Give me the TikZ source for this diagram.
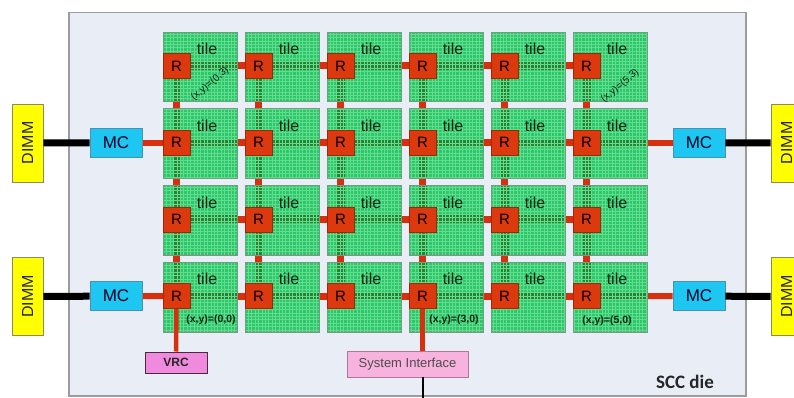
\documentclass[tikz,border=0pt]{standalone}
\usepackage{fontspec}
\setmainfont{Liberation Sans}
\newfontfamily\carlfont{Carlito}
\usetikzlibrary{calc}
\pgfdeclarelayer{dielayer}
\pgfdeclarelayer{linklayer}
\pgfdeclarelayer{tilelayer}
\pgfdeclarelayer{striplayer}
\pgfdeclarelayer{gridlayer}
\pgfsetlayers{dielayer,linklayer,tilelayer,striplayer,gridlayer,main}

\definecolor{dieF}{HTML}{E9EDF6}
\definecolor{dieD}{HTML}{9C9C9C}
\definecolor{tileF}{RGB}{46,198,106}
\definecolor{gridC}{RGB}{96,222,142}
\definecolor{tileD}{HTML}{6F9F80}
\definecolor{stripC}{RGB}{44,128,50}
\definecolor{rF}{HTML}{DC3A0E}
\definecolor{rD}{HTML}{9A2A08}
\definecolor{linkC}{HTML}{D8300F}
\definecolor{mcF}{HTML}{1EC6F2}
\definecolor{mcD}{HTML}{4E8FB0}
\definecolor{dimmF}{HTML}{FFFF00}
\definecolor{dimmD}{HTML}{8A8A60}
\definecolor{vrcF}{HTML}{F08ADC}
\definecolor{vrcD}{HTML}{4A2A40}
\definecolor{siF}{HTML}{F8B2DE}
\definecolor{siD}{HTML}{B07898}
\definecolor{txtG}{HTML}{0C2616}

\begin{document}
\begin{tikzpicture}[x=1pt,y=-1pt,
  diebox/.style={draw=dieD, line width=1.5pt, fill=dieF, anchor=north west,
    minimum width=677pt, minimum height=383pt, inner sep=0pt},
  tilebox/.style={draw=tileD, line width=0.8pt, fill=tileF,
    minimum width=74pt, minimum height=69pt, inner sep=0pt, anchor=north west},
  tiletext/.style={text=txtG, font=\fontsize{16}{16}\selectfont, inner sep=0pt},
  router/.style={draw=rD, line width=0.8pt, fill=rF, minimum width=27pt, minimum height=25pt,
    inner sep=0pt, text=black, font=\fontsize{15}{15}\selectfont},
  link/.style={draw=linkC, line width=7pt},
  strip/.style={draw=stripC, line width=8pt, line cap=butt},
  mclink/.style={draw=linkC, line width=6pt},
  iolink/.style={draw=linkC, line width=4.5pt},
  memlink/.style={draw=black, line width=7pt},
  mcbox/.style={draw=mcD, line width=0.8pt, fill=mcF, minimum width=52pt, minimum height=29pt,
    inner sep=0pt, text=black!85!blue, font=\fontsize{17}{17}\selectfont},
  dimmbox/.style={draw=dimmD, line width=0.8pt, fill=dimmF, minimum width=31pt, minimum height=78pt,
    inner sep=0pt},
  dimmtext/.style={rotate=90, inner sep=0pt, font=\fontsize{16}{16}\selectfont, text=black!85},
  vrcbox/.style={draw=vrcD, line width=1pt, fill=vrcF, minimum width=62pt, minimum height=21pt,
    inner sep=0pt, font=\bfseries\fontsize{12}{12}\selectfont, text=black!85},
  sibox/.style={draw=siD, line width=0.8pt, fill=siF, minimum width=121pt, minimum height=26pt,
    inner sep=0pt, font=\fontsize{13}{13}\selectfont, text=black!70},
  coordlbl/.style={inner sep=0pt, text=txtG, font=\bfseries\fontsize{10.5}{10.5}\selectfont},
  rotlbl/.style={inner sep=0pt, text=txtG, font=\fontsize{10}{10}\selectfont},
  meshgrid/.style={draw=gridC, line width=0.35pt, step=3.4pt}]

\clip (0,0) rectangle (794,398);

\begin{pgfonlayer}{dielayer}
  \node[diebox] (die) at (68,12) {};
\end{pgfonlayer}

% tiles and routers
\foreach \i in {0,...,5}{
  \foreach \j in {0,...,3}{
    \pgfmathsetmacro\L{163+82*\i}
    \pgfmathsetmacro\T{32+76.7*(3-\j)}
    \begin{pgfonlayer}{tilelayer}
      \node[tilebox] (t\i\j) at (\L,\T) {};
    \end{pgfonlayer}
    \begin{pgfonlayer}{gridlayer}
      \begin{scope}
        \clip (t\i\j.north west) rectangle (t\i\j.south east);
        \draw[meshgrid] (t\i\j.north west) grid (t\i\j.south east);
      \end{scope}
      \draw[tileD, line width=0.8pt] (t\i\j.north west) rectangle (t\i\j.south east);
    \end{pgfonlayer}
    \node[tiletext] (tl\i\j) at (\L+44,\T+17) {tile};
    \node[router] (r\i\j) at (\L+13.5,\T+34) {R};
  }
}

% memory controllers
\node[mcbox] (mcl1) at (116,142.7) {MC};
\node[mcbox] (mcl0) at (116,296.1) {MC};
\node[mcbox] (mcr1) at (699,142.7) {MC};
\node[mcbox] (mcr0) at (699,296.1) {MC};

% mesh links: red below the tiles
\begin{pgfonlayer}{linklayer}
  \foreach \i [evaluate=\i as \n using int(\i+1)] in {0,...,4}{
    \foreach \j in {0,...,3}{
      \draw[link] (r\i\j.center) -- (r\n\j.center);
    }
  }
  \foreach \i in {0,...,5}{
    \foreach \j [evaluate=\j as \m using int(\j+1)] in {0,...,2}{
      \draw[link] (r\i\j.center) -- (r\i\m.center);
    }
  }
  \draw[mclink] (mcl1.east) -- (r02.center);
  \draw[mclink] (mcl0.east) -- (r00.center);
  \draw[mclink] (r52.center) -- (mcr1.west);
  \draw[mclink] (r50.center) -- (mcr0.west);
\end{pgfonlayer}

% the same links seen through the tiles: dark green strips
\begin{pgfonlayer}{striplayer}
  \foreach \i in {0,...,4}{
    \foreach \j in {0,...,3}{
      \draw[strip] (r\i\j.center) -- (r\i\j.center -| t\i\j.east);
    }
  }
  \draw[strip] (r52.center) -- (r52.center -| t52.east);
  \draw[strip] (r50.center) -- (r50.center -| t50.east);
  \foreach \i in {0,...,5}{
    \foreach \j in {0,...,2}{
      \draw[strip] (r\i\j.center) -- (r\i\j.center |- t\i\j.north);
    }
    \foreach \j in {1,...,3}{
      \draw[strip] (r\i\j.center) -- (r\i\j.center |- t\i\j.south);
    }
  }
\end{pgfonlayer}

% DIMMs
\node[dimmbox] (dl1) at (27.5,143) {};
\node[dimmtext] at (dl1) {DIMM};
\node[dimmbox] (dl0) at (27.5,296.5) {};
\node[dimmtext] at (dl0) {DIMM};
\node[dimmbox] (dr1) at (786.5,143) {};
\node[dimmtext] at (dr1) {DIMM};
\node[dimmbox] (dr0) at (786.5,296.5) {};
\node[dimmtext] at (dr0) {DIMM};

\draw[memlink] (dl1) -- (mcl1);
\draw[memlink] (dl0) -- (mcl0);
\draw[memlink] (mcr1) -- (dr1);
\draw[memlink] (mcr0) -- (dr0);

% VRC and system interface
\node[vrcbox] (vrc) at (176,362.5) {VRC};
\node[sibox] (si) at (407.5,364) {System Interface};
\coordinate (siout) at (422.5,398);

\draw[iolink] (r00) -- (vrc);
\draw[iolink] (r30) -- (r30 |- si.north);
\draw[black, line width=2pt] (r30 |- si.south) -- (siout);

% coordinate labels
\node[coordlbl] (c00) at (211,320) {(x,y)=(0,0)};
\node[coordlbl] (c30) at (454,320) {(x,y)=(3,0)};
\node[coordlbl] (c50) at (607,321) {(x,y)=(5,0)};
\node[rotlbl, rotate=40] (c03) at (210,84) {(x,y)=(0,3)};
\node[rotlbl, rotate=40] (c53) at (620,86) {(x,y)=(5,3)};

% die label
\node[inner sep=0pt, font=\carlfont\bfseries\fontsize{19}{19}\selectfont, text=black!85] (dielbl) at (685,382) {SCC die};
\end{tikzpicture}
\end{document}
